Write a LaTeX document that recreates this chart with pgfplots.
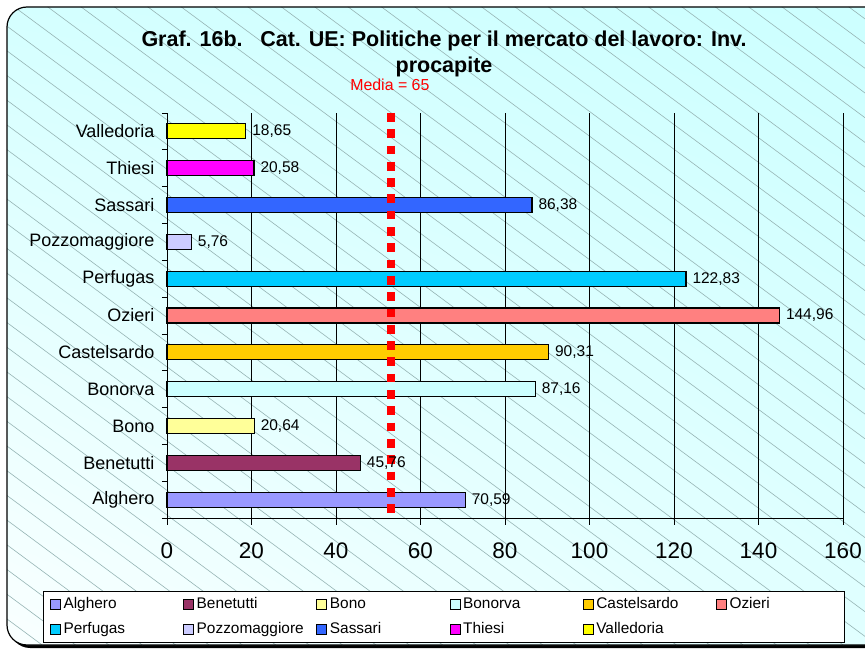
\documentclass[border=0pt]{standalone}
\usepackage{pgfplots}
\pgfplotsset{compat=1.18}
\usetikzlibrary{shadings}
\usepackage{fontspec}
\setmainfont{Liberation Sans}
\definecolor{cAlghero}{HTML}{9999FF}
\definecolor{cBenetutti}{HTML}{993366}
\definecolor{cBono}{HTML}{FFFF99}
\definecolor{cBonorva}{HTML}{CCFFFF}
\definecolor{cCastelsardo}{HTML}{FFCC00}
\definecolor{cOzieri}{HTML}{FF8080}
\definecolor{cPerfugas}{HTML}{00CCFF}
\definecolor{cPozzo}{HTML}{CCCCFF}
\definecolor{cSassari}{HTML}{3366FF}
\definecolor{cThiesi}{HTML}{FF00FF}
\definecolor{cValledoria}{HTML}{FFFF00}
\definecolor{bgA}{RGB}{212,255,255}
\definecolor{bgB}{RGB}{204,255,255}
\definecolor{bgC}{RGB}{250,255,255}
\definecolor{bgD}{RGB}{224,255,255}
\definecolor{hatch}{RGB}{150,180,180}
\newcommand{\legcell}[1]{\makebox[117.2bp][l]{#1}}
\pgfplotsset{mybar/.style={xbar, bar width=15bp, bar shift=0pt, draw=black, line width=1.1bp, fill=#1,
  point meta=x,
  nodes near coords={\pgfmathprintnumber[use comma,fixed,fixed zerofill,precision=2]{\pgfplotspointmeta}},
  every node near coord/.append style={anchor=west, inner sep=0pt, xshift=6bp, text=black,
    font=\fontsize{15.5bp}{18bp}\selectfont}}}
\begin{document}
\begin{tikzpicture}
\useasboundingbox (0bp,0bp) rectangle (865bp,651bp);
\begin{scope}[x=1bp,y=1bp]
\fill[black, rounded corners=20bp] (10,3) rectangle (890,641);
\begin{scope}
\clip[rounded corners=20bp] (7,6) rectangle (887,644);
\shade[upper left=bgA, upper right=bgB, lower left=bgC, lower right=bgD] (0,0) rectangle (890,651);
\foreach \m in {-27,...,29} {
  \pgfmathsetmacro\c{630+24.7*\m}
  \draw[hatch, line width=0.6bp] (0,\c) -- (900,{\c-666});
}
\end{scope}
\draw[black, line width=1.2bp, rounded corners=20bp] (7,6) rectangle (887,644);
\end{scope}
\begin{axis}[
  at={(167bp,133bp)}, anchor=south west, scale only axis,
  width=676bp, height=405bp,
  xmin=0, xmax=160, ymin=-0.5, ymax=10.5,
  clip=false,
  axis x line=bottom, axis y line=left,
  axis line style={-, black, line width=0.9bp},
  xtick={0,20,...,160},
  xmajorgrids, major grid style={black, line width=0.8bp},
  tick align=outside, major tick length=7bp,
  major tick style={black, line width=0.8bp},
  ytick={0,...,10},
  yticklabels={Alghero,Benetutti,Bono,Bonorva,Castelsardo,Ozieri,Perfugas,Pozzomaggiore,Sassari,Thiesi,Valledoria},
  major y tick style={draw=none},
  minor ytick={-0.5,0.5,...,10.5},
  minor tick length=5bp,
  minor y tick style={black, line width=0.8bp},
  /pgf/number format/assume math mode=true,
  xticklabel style={font=\fontsize{22.5bp}{27bp}\selectfont, yshift=-14bp},
  yticklabel style={font=\fontsize{18bp}{21bp}\selectfont, xshift=-2bp},
  title={Graf. 16b.\hspace{17.6bp}Cat. UE: Politiche per il mercato del lavoro: Inv.\\procapite},
  title style={at={(axis description cs:0.4098,1.131)}, anchor=center, align=center,
    font=\bfseries\fontsize{21.5bp}{26bp}\selectfont},
  every axis plot post/.append style={legend image code/.code={
    \draw[#1, draw=black, line width=1bp] (0bp,-5bp) rectangle (10bp,5bp);}},
  legend columns=6,
  legend cell align=left,
  legend style={at={(axis description cs:-0.1834,-0.1802)}, anchor=north west,
    draw=black, line width=0.8bp, fill=white, inner xsep=6.6bp, inner ysep=0bp,
    font=\fontsize{15.4bp}{18bp}\selectfont,
    column sep=0pt,
    nodes={text height=12bp, text depth=4bp, inner xsep=2.5bp, inner ysep=4.8bp}},
]
\addplot[mybar=cAlghero] coordinates {(70.59,0)};
\addlegendentry{\legcell{Alghero}}
\addplot[mybar=cBenetutti] coordinates {(45.76,1)};
\addlegendentry{\legcell{Benetutti}}
\addplot[mybar=cBono] coordinates {(20.64,2)};
\addlegendentry{\legcell{Bono}}
\addplot[mybar=cBonorva] coordinates {(87.16,3)};
\addlegendentry{\legcell{Bonorva}}
\addplot[mybar=cCastelsardo] coordinates {(90.31,4)};
\addlegendentry{\legcell{Castelsardo}}
\addplot[mybar=cOzieri] coordinates {(144.96,5)};
\addlegendentry{\makebox[105.3bp][l]{Ozieri}}
\addplot[mybar=cPerfugas] coordinates {(122.83,6)};
\addlegendentry{\legcell{Perfugas}}
\addplot[mybar=cPozzo] coordinates {(5.76,7)};
\addlegendentry{\legcell{Pozzomaggiore}}
\addplot[mybar=cSassari] coordinates {(86.38,8)};
\addlegendentry{\legcell{Sassari}}
\addplot[mybar=cThiesi] coordinates {(20.58,9)};
\addlegendentry{\legcell{Thiesi}}
\addplot[mybar=cValledoria] coordinates {(18.65,10)};
\addlegendentry{\legcell{Valledoria}}
\addplot[sharp plot, red, line width=8bp, dash pattern=on 8.7bp off 7.6bp, forget plot]
  coordinates {(52.9,10.5) (52.9,-0.5)};
\node[text=red, font=\fontsize{15.9bp}{19bp}\selectfont] at (axis cs:52.75,11.26) {Media = 65};
\end{axis}
\end{tikzpicture}
\end{document}
